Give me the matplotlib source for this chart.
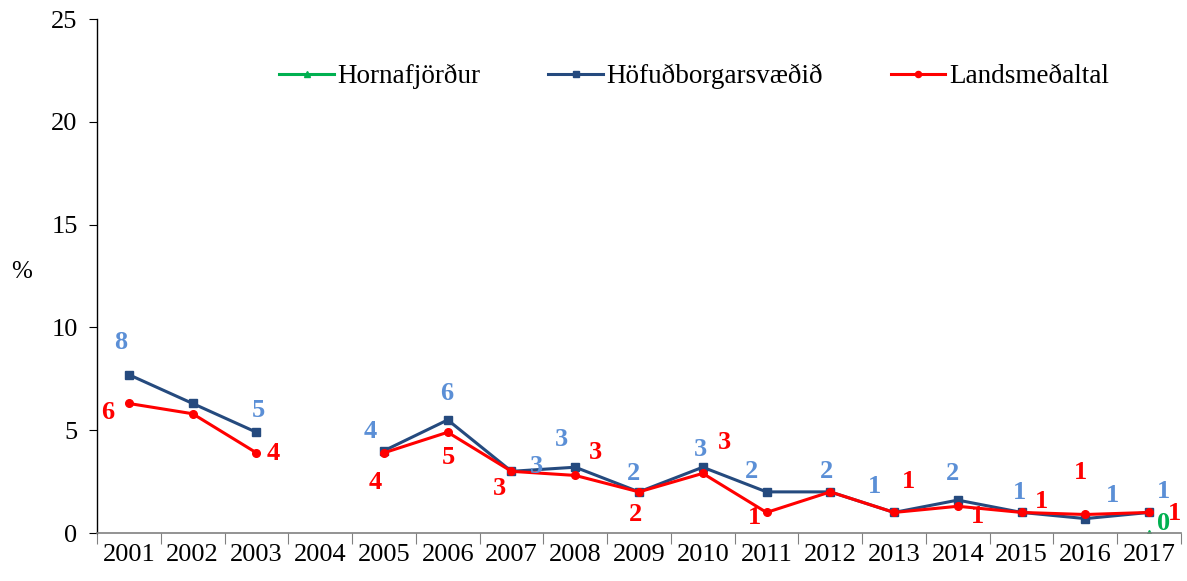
import numpy as np
import matplotlib
matplotlib.use("Agg")
import matplotlib.pyplot as plt

# data
years = [str(y) for y in range(2001, 2018)]
hornafjordur = [np.nan] * 16 + [0.0]
hofudborg = [7.7, 6.3, 4.9, np.nan, 4.0, 5.5, 3.0, 3.2, 2.0, 3.2, 2.0, 2.0, 1.0, 1.6, 1.0, 0.7, 1.0]
landsmedaltal = [6.3, 5.8, 3.9, np.nan, 3.9, 4.9, 3.0, 2.8, 2.0, 2.9, 1.0, 2.0, 1.0, 1.3, 1.0, 0.9, 1.0]

# data label offsets (pixels) per year index
blue_off = {0: (-8, 32), 2: (2, 22), 4: (-14, 19), 5: (-1, 26), 6: (25, 5), 7: (-14, 28),
            8: (-5, 18), 9: (-2, 18), 10: (-15, 20), 11: (-4, 20), 12: (-20, 26),
            13: (-5, 27), 14: (-2, 20), 15: (27, 23), 16: (14, 21)}
red_off = {0: (-21, -9), 2: (17, -1), 4: (-9, -30), 5: (1, -25), 6: (-12, -17), 7: (20, 23),
           8: (-4, -23), 9: (22, 31), 10: (-12, -5), 12: (14, 31), 13: (20, -10),
           14: (20, 11), 15: (-5, 42), 16: (25, -1)}
green_off = {16: (14, 9)}

c_green = '#00B050'
c_navy = '#254A7E'
c_lblue = '#5B8FD6'
c_red = '#FF0000'

plt.rcParams['font.family'] = ['Liberation Serif', 'DejaVu Serif']

fig = plt.figure(figsize=(11.87, 5.81), dpi=100)
ax = fig.add_axes([97 / 1187, 48 / 581, 1084 / 1187, 514 / 581])

x = np.arange(len(years))
ax.plot(x, hornafjordur, color=c_green, marker='^', markersize=5, linewidth=2.2, label='Hornafjörður')
ax.plot(x, hofudborg, color=c_navy, marker='s', markersize=5.5, linewidth=2.2, label='Höfuðborgarsvæðið')
ax.plot(x, landsmedaltal, color=c_red, marker='o', markersize=5.5, linewidth=2.2, label='Landsmeðaltal')

def add_labels(vals, offs, color):
    for i, (dx, dy) in offs.items():
        v = vals[i]
        ax.annotate(f"{v:.0f}", (x[i], v), xytext=(dx, dy), textcoords='offset pixels',
                    ha='center', va='center', color=color, fontsize=19, fontweight='bold',
                    annotation_clip=False)

add_labels(hofudborg, blue_off, c_lblue)
add_labels(landsmedaltal, red_off, c_red)
add_labels(hornafjordur, green_off, c_green)

ax.set_xlim(-0.5, len(years) - 0.5)
ax.set_ylim(0, 25)
ax.set_yticks([0, 5, 10, 15, 20, 25])
ax.set_xticks(np.arange(len(years) + 1) - 0.5)
ax.set_xticklabels([])
ax.set_xticks(x, minor=True)
ax.set_xticklabels(years, minor=True)
ax.tick_params(axis='x', which='major', length=8, direction='out', color='#808080')
ax.tick_params(axis='x', which='minor', length=0, pad=8, labelsize=19)
ax.tick_params(axis='y', length=6, direction='out', pad=8, labelsize=19)

ax.spines['top'].set_visible(False)
ax.spines['right'].set_visible(False)
ax.spines['bottom'].set_color('#808080')
ax.spines['bottom'].set_linewidth(1.2)
ax.spines['left'].set_linewidth(1.0)

ax.set_ylabel('%', rotation=0, fontsize=18)
ax.yaxis.set_label_coords(-0.07, 0.486)

ax.legend(loc='center', bbox_to_anchor=(0.551, 0.888), ncol=3, frameon=False,
          fontsize=19.5, handlelength=2.0, handletextpad=0.15, columnspacing=2.5, markerscale=0.8)

fig.savefig('out.png', dpi=100)
